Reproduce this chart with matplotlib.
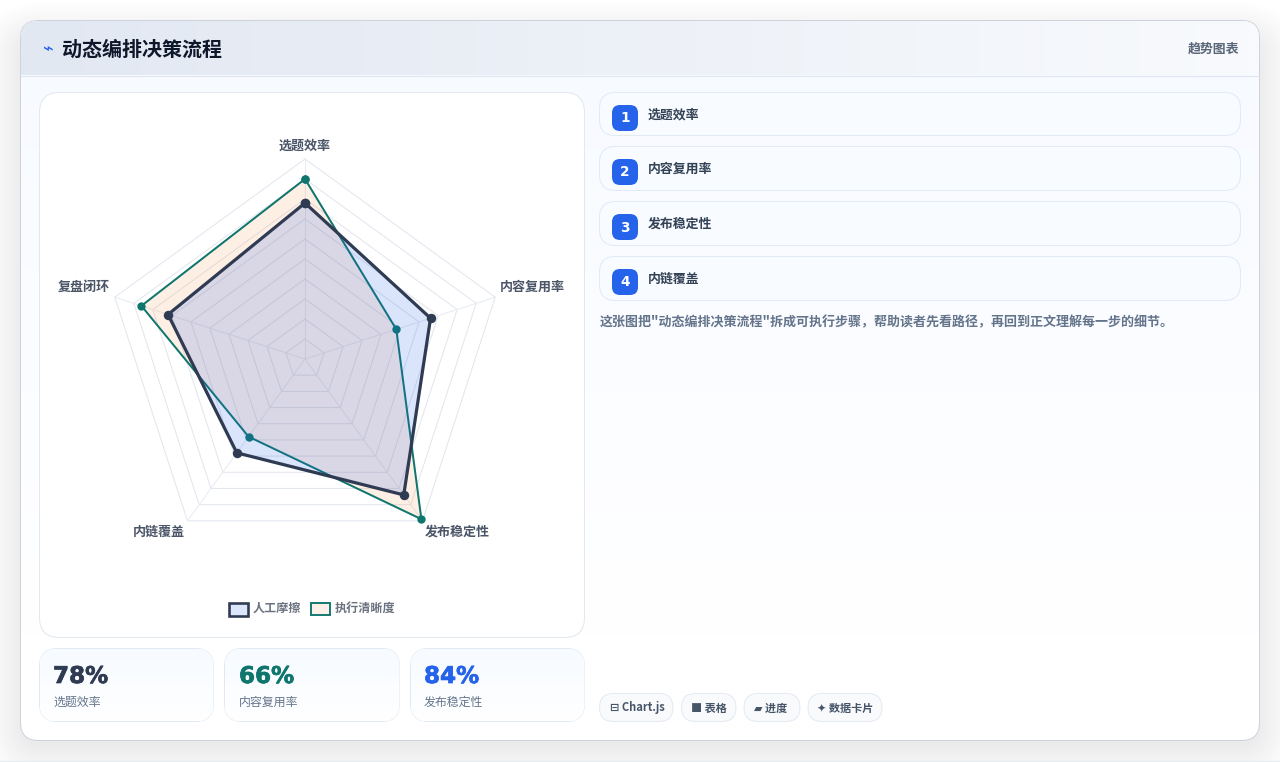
import numpy as np
import matplotlib
matplotlib.use('Agg')
import matplotlib.pyplot as plt
import matplotlib.patheffects as pe
from matplotlib.patches import FancyBboxPatch

plt.rcParams['font.family'] = ['Noto Sans CJK SC', 'DejaVu Sans']

title = '动态编排决策流程'
tab_label = '趋势图表'
axes_labels = ['选题效率', '内容复用率', '发布稳定性', '内链覆盖', '复盘闭环']
series_names = ['人工摩擦', '执行清晰度']
manual_values = [78, 66, 84, 58, 72]
clarity_values = [90, 48, 99, 48, 86]
ring_values = [10, 20, 30, 40, 50, 60, 70, 80, 90, 100]
step_labels = ['选题效率', '内容复用率', '发布稳定性', '内链覆盖']
stat_values = ['78%', '66%', '84%']
stat_labels = ['选题效率', '内容复用率', '发布稳定性']
stat_colors = ['#2f3b52', '#0f766e', '#2563eb']
chip_labels = ['⊟ Chart.js', '■ 表格', '▰ 进度', '✦ 数据卡片']
description = '这张图把"动态编排决策流程"拆成可执行步骤\uff0c帮助读者先看路径\uff0c再回到正文理解每一步的细节。'

DARK = '#2f3b52'
TEAL = '#0f766e'
BLUE = '#2563eb'
PX = 0.72  # points per pixel at dpi 100


def rounded(ax, x0, y0, x1, y1, r, fc='none', ec='none', lw=1.0, alpha=None, z=2):
    p = FancyBboxPatch((x0 + r, y0 + r), x1 - x0 - 2 * r, y1 - y0 - 2 * r,
                       boxstyle='round,pad=%f,rounding_size=%f' % (r, r),
                       fc=fc, ec=ec, lw=lw * PX, alpha=alpha, zorder=z)
    ax.add_patch(p)
    return p


def gradient(ax, clip, extent, c0, c1, horizontal=False, z=2):
    rgb0 = np.array(matplotlib.colors.to_rgb(c0))
    rgb1 = np.array(matplotlib.colors.to_rgb(c1))
    t = np.linspace(0, 1, 64)
    img = np.outer(t, rgb1) + np.outer(1 - t, rgb0)
    img = img[np.newaxis, :, :] if horizontal else img[:, np.newaxis, :]
    im = ax.imshow(img, extent=extent, aspect='auto', zorder=z, origin='upper',
                   interpolation='bilinear')
    im.set_clip_path(clip)


fig = plt.figure(figsize=(12.8, 7.62), dpi=100, facecolor='white')
page = fig.add_axes([0, 0, 1, 1])

# soft shadow below the card
for grow in range(40, 0, -2):
    rounded(page, 24 - grow, 42 - grow, 1256 + grow, 744 + grow, 18 + grow,
            fc='#0f172a', alpha=0.0052, z=1)
page.fill([0, 1280, 1280, 0], [761, 761, 762, 762], color='#e9ecf2', zorder=1.5)

# card and header
card = rounded(page, 20.5, 20.5, 1259.5, 740.5, 18, fc='white', ec='#ccd3df', lw=1, z=2)
clip = rounded(page, 21, 21, 1259, 740, 18, fc='none', z=2)
gradient(page, clip, (21, 1259, 640, 21), '#f7faff', '#ffffff', z=2.1)
gradient(page, clip, (21, 1259, 75.5, 21), '#e2e8f2', '#f8fafd', horizontal=True, z=2.2)
page.plot([21, 1259], [75.5, 75.5], color='#dfe6f0', lw=0.8, zorder=2.3)

page.text(47.5, 50, '⌁', color=BLUE, fontsize=13, ha='center', va='center', zorder=3,
          family=['DejaVu Sans'])
page.text(62, 49.5, title, color='#0f172a', fontsize=14.4, fontweight='bold',
          va='center', zorder=3)
page.text(1239.5, 48.5, tab_label, color='#5a6779', fontsize=9.3, fontweight='bold',
          ha='right', va='center', zorder=3)

# chart panel
rounded(page, 39.5, 92.5, 584.5, 637.5, 20, fc='white', ec='#e2e8f0', lw=1, z=3)

# legend
swatches = [(228.5, 247.5, 602.5, 615.5, '#dbe6fb', DARK, 2.6),
            (311, 329.5, 603, 615, '#fdf0e6', TEAL, 1.9)]
label_x = [252.5, 335]
for (x0, x1, y0, y1, fc, ec, lw), name, lx in zip(swatches, series_names, label_x):
    page.fill([x0, x1, x1, x0], [y0, y0, y1, y1], fc=fc, ec=ec, lw=lw * PX, zorder=4)
    page.text(lx, 608.5, name, color='#6b7280', fontsize=8.7, fontweight='bold',
              va='center', zorder=4)

# stat tiles
tile_x = [(39.5, 213.5), (224.5, 399.5), (410.5, 584.5)]
tile_text_x = [53, 239, 424]
for (x0, x1), tx, val, lab, col in zip(tile_x, tile_text_x, stat_values, stat_labels, stat_colors):
    tile = rounded(page, x0, 648.5, x1, 721.5, 18, fc='white', ec='#dfe8f3', lw=1, z=3)
    gradient(page, tile, (x0, x1, 721, 649), '#f7fbff', '#ffffff', z=3.1)
    num = page.text(tx, 676.5, val, color=col, fontsize=16.6, fontweight='bold',
                    family=['DejaVu Sans'], va='center', zorder=4)
    num.set_path_effects([pe.withStroke(linewidth=0.5, foreground=col)])
    page.text(tx, 702.5, lab, color='#64748b', fontsize=8.6, va='center', zorder=4)

# step rows
row_y = [(92.5, 135.5), (146.5, 190.5), (201.5, 245.5), (256.5, 300.5)]
for i, ((y0, y1), lab) in enumerate(zip(row_y, step_labels)):
    rounded(page, 599.5, y0, 1240.5, y1, 16, fc='#f8fbff', ec='#e1eaf5', lw=1, z=3)
    badge_top = y0 + 12.5
    rounded(page, 612, badge_top, 638, badge_top + 26, 8, fc=BLUE, z=4)
    page.text(625, badge_top + 13.5, str(i + 1), color='white', fontsize=9.8,
              fontweight='bold', family=['DejaVu Sans'], ha='center', va='center', zorder=5)
    page.text(648, badge_top + 9.8, lab, color='#334155', fontsize=9.3, fontweight='bold',
              va='center', zorder=5)

page.text(599.5, 322.5, description, color='#64748b', fontsize=9.36, fontweight='bold',
          va='center', zorder=4)

# chips along the bottom
chip_x = [(599.5, 673), (681.5, 736), (744, 800), (808, 882)]
chip_text_x = [609.5, 691, 753.5, 817]
for (x0, x1), tx, lab in zip(chip_x, chip_text_x, chip_labels):
    rounded(page, x0, 693.5, x1, 721.5, 14, fc='#f8fafc', ec='#e5eaf1', lw=1, z=3)
    page.text(tx, 708, lab, color='#475569', fontsize=8, fontweight='bold',
              family=['Noto Sans CJK SC', 'DejaVu Sans'], va='center', zorder=4)

page.set_xlim(0, 1280)
page.set_ylim(762, 0)
page.axis('off')

# radar, centred at (305, 359) with a 200 px radius
radar = fig.add_axes([(305 - 200) / 1280, (762 - 359 - 200) / 762, 400 / 1280, 400 / 762],
                     projection='polar')
radar.set_theta_zero_location('N')
radar.set_theta_direction(-1)
radar.set_ylim(0, 100)
radar.axis('off')

theta = np.linspace(0, 2 * np.pi, len(axes_labels), endpoint=False)
closed = np.append(theta, theta[0])


def close(values):
    return list(values) + [values[0]]


for r in ring_values:
    radar.plot(closed, [r] * len(closed), color='#e1e6ee', lw=0.72, zorder=1, clip_on=False)
for t in theta:
    radar.plot([t, t], [0, 100], color='#e8ebf1', lw=0.72, zorder=1, clip_on=False)

radar.fill(closed, close(clarity_values), color='#f97316', alpha=0.11, lw=0, zorder=2, clip_on=False)
radar.plot(closed, close(clarity_values), color=TEAL, lw=2 * PX, marker='o', ms=6.0,
           mew=0, zorder=3, clip_on=False)
radar.fill(closed, close(manual_values), color=BLUE, alpha=0.17, lw=0, zorder=4, clip_on=False)
radar.plot(closed, close(manual_values), color=DARK, lw=3.2 * PX, marker='o', ms=6.8,
           mew=0, zorder=5, clip_on=False)

label_offsets = [(0, 13.5, 'center'), (5, 10.5, 'left'), (2.5, -10.5, 'left'),
                 (-2.5, -10.5, 'right'), (-5, 10.5, 'right')]
for t, lab, (dx, dy, ha) in zip(theta, axes_labels, label_offsets):
    radar.annotate(lab, (t, 100), xytext=(dx * PX, dy * PX), textcoords='offset points',
                   color='#4b5568', fontsize=9.4, fontweight='bold', ha=ha, va='center',
                   annotation_clip=False)

fig.savefig('out.png', dpi=100)
